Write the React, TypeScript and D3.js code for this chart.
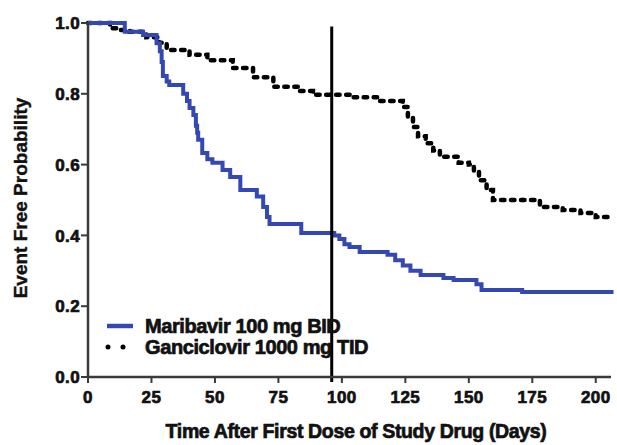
import React from 'react';
import * as d3 from 'd3';

// Kaplan-Meier step values
const maribavirDays = [0, 14.5, 21.7, 27, 28.3, 29, 29.5, 31, 32, 37.5, 39, 40, 41.5, 42.5, 43, 43.4, 45, 47, 49, 53, 56, 60, 66.5, 69, 70.5, 71.5, 84, 97, 99, 101, 103, 107, 118, 121, 124, 127, 131, 140, 144, 153, 155, 171, 207];
const maribavirProb = [1.0, 0.975, 0.966, 0.943, 0.92, 0.89, 0.85, 0.835, 0.825, 0.8, 0.78, 0.76, 0.74, 0.71, 0.69, 0.67, 0.633, 0.615, 0.605, 0.585, 0.565, 0.528, 0.51, 0.48, 0.452, 0.432, 0.407, 0.4, 0.39, 0.375, 0.367, 0.353, 0.345, 0.33, 0.315, 0.3, 0.288, 0.28, 0.274, 0.262, 0.246, 0.24, 0.24];

const ganciclovirDays = [0, 8.7, 12.6, 16.5, 23, 28, 31, 40, 47, 57, 65, 73, 83.5, 88.6, 104, 114, 124, 126, 128, 130, 133, 136, 138.6, 146, 150, 152, 154, 157, 159.5, 174, 178, 187, 194, 200, 207];
const ganciclovirProb = [1.0, 0.985, 0.98, 0.975, 0.96, 0.944, 0.924, 0.91, 0.895, 0.873, 0.847, 0.82, 0.808, 0.797, 0.79, 0.78, 0.763, 0.735, 0.706, 0.68, 0.66, 0.64, 0.622, 0.605, 0.6, 0.58, 0.556, 0.528, 0.5, 0.5, 0.48, 0.472, 0.463, 0.452, 0.452];

const xTicks = [0, 25, 50, 75, 100, 125, 150, 175, 200];
const yTicks = [0, 0.2, 0.4, 0.6, 0.8, 1.0];
const cutoffDay = 96;

const legendLabels = ['Maribavir 100 mg BID', 'Ganciclovir 1000 mg TID'];

const W = 617;
const H = 445;
const FONT = '"Liberation Sans", Arial, sans-serif';
const BLUE = '#3448b4';
const INK = '#111';

// heavy-looking text: bold plus a thin outline of the same colour
const heavy = { fontWeight: 700, fill: INK, stroke: INK, strokeWidth: 0.7, paintOrder: 'stroke' } as const;

export default function App() {
  const x = d3.scaleLinear().domain([0, 206]).range([88, 611]);
  const y = d3.scaleLinear().domain([0, 1]).range([377, 23]);

  const step = d3.line<[number, number]>()
    .x(d => x(d[0]))
    .y(d => y(d[1]))
    .curve(d3.curveStepAfter);

  const maribavir = maribavirDays.map((d, i) => [d, maribavirProb[i]] as [number, number]);
  const ganciclovir = ganciclovirDays.map((d, i) => [d, ganciclovirProb[i]] as [number, number]);

  const [x0, x1] = x.range();
  const [y0, y1] = y.range();

  return (
    <svg width={W} height={H} style={{ position: 'absolute', left: 0, top: 0, background: '#fff' }}
      fontFamily={FONT}>
      {/* curves */}
      <path d={step(ganciclovir) || ''} fill="none" stroke="#000" strokeWidth={4.5}
        strokeDasharray="3.5,6.5" strokeLinecap="round" />
      <path d={step(maribavir) || ''} fill="none" stroke={BLUE} strokeWidth={4} />

      {/* cutoff line */}
      <line x1={x(cutoffDay)} x2={x(cutoffDay)} y1={y(0.99)} y2={y(-0.014)} stroke="#000" strokeWidth={3} />

      {/* axes */}
      <line x1={x0} x2={x0} y1={y1 - 1} y2={y0} stroke="#3a3a3a" strokeWidth={2.5} />
      <line x1={x0} x2={x1} y1={y0} y2={y0} stroke="#3a3a3a" strokeWidth={2.5} />
      {yTicks.map(t => (
        <g key={'y' + t}>
          <line x1={x0 - 7} x2={x0} y1={y(t)} y2={y(t)} stroke="#3a3a3a" strokeWidth={2} />
          <text x={x0 - 8} y={y(t)} dy="0.36em" textAnchor="end" fontSize={17}
            letterSpacing={0.4} {...heavy}>{t.toFixed(1)}</text>
        </g>
      ))}
      {xTicks.map(t => (
        <g key={'x' + t}>
          <line x1={x(t)} x2={x(t)} y1={y0} y2={y0 + 6} stroke="#3a3a3a" strokeWidth={2} />
          <text x={x(t)} y={y0 + 26} textAnchor="middle" fontSize={17}
            letterSpacing={0.4} {...heavy}>{t}</text>
        </g>
      ))}

      {/* axis titles */}
      <text x={356} y={438} textAnchor="middle" fontSize={19.5} letterSpacing={-0.35}
        {...heavy}>Time After First Dose of Study Drug (Days)</text>
      <text transform="translate(27,198) rotate(-90)" textAnchor="middle" fontSize={19}
        {...heavy} strokeWidth={0.4}>Event Free Probability</text>

      {/* legend */}
      <line x1={107} x2={133} y1={326} y2={326} stroke={BLUE} strokeWidth={4.5} />
      <text x={145} y={326} dy="0.36em" fontSize={20} letterSpacing={-0.4}
        {...heavy}>{legendLabels[0]}</text>
      <line x1={108} x2={127} y1={347} y2={347} stroke="#000" strokeWidth={5}
        strokeDasharray="0,15" strokeLinecap="round" />
      <text x={145} y={347} dy="0.36em" fontSize={20} letterSpacing={-0.4}
        {...heavy}>{legendLabels[1]}</text>
    </svg>
  );
}
